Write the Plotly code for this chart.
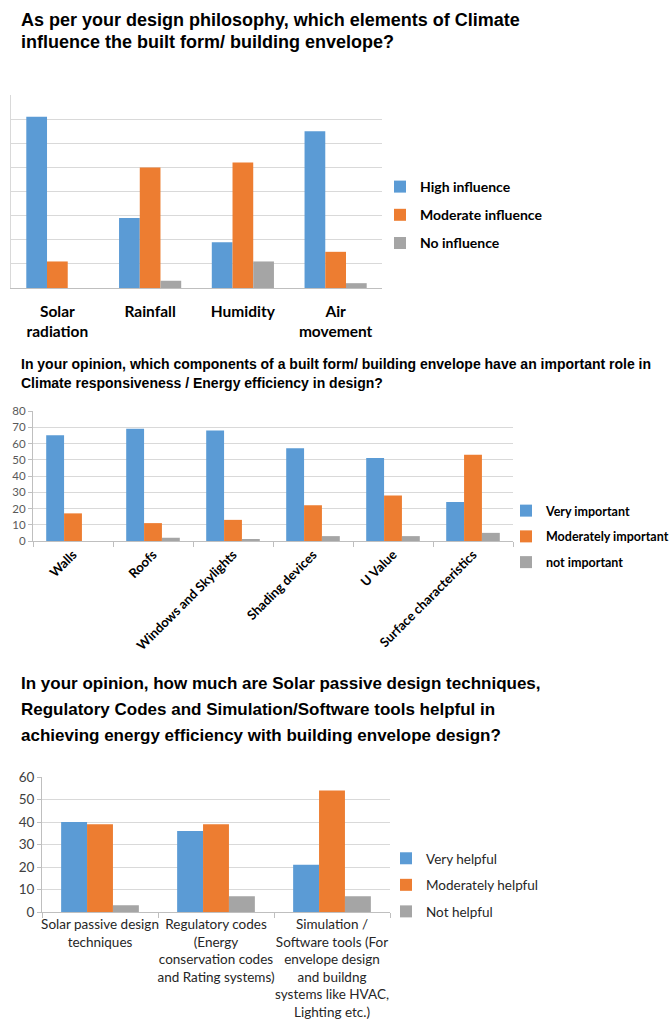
import plotly.graph_objects as go

W, H = 670, 1026


def py(p):
    return 1 - p / H


def px(p):
    return p / W


# ---------------- data ----------------
c1_categories = ["Solar<br>radiation", "Rainfall", "Humidity", "Air<br>movement"]
c1_series = ["High influence", "Moderate influence", "No influence"]
c1_high = [71, 29, 19, 65]
c1_moderate = [11, 50, 52, 15]
c1_none = [0, 3, 11, 2]

c2_categories = ["Walls", "Roofs", "Windows and Skylights", "Shading devices",
                 "U Value", "Surface characteristics"]
c2_series = ["Very important", "Moderately important", "not important"]
c2_very = [65, 69, 68, 57, 51, 24]
c2_moderate = [17, 11, 13, 22, 28, 53]
c2_not = [0, 2, 1, 3, 3, 5]

c3_categories = [
    "Solar passive design<br>techniques",
    "Regulatory codes<br>(Energy<br>conservation codes<br>and Rating systems)",
    "Simulation /<br>Software tools (For<br>envelope design<br>and buildng<br>systems like HVAC,<br>Lighting etc.)",
]
c3_series = ["Very helpful", "Moderately helpful", "Not helpful"]
c3_very = [40, 36, 21]
c3_moderate = [39, 39, 54]
c3_not = [3, 7, 7]

c1_yticks = [0, 10, 20, 30, 40, 50, 60, 70, 80]
c2_yticks = [0, 10, 20, 30, 40, 50, 60, 70, 80]
c3_yticks = [0, 10, 20, 30, 40, 50, 60]

titles = [
    (["As per your design philosophy, which elements of Climate",
      "influence the built form/ building envelope?"], [20, 42], 18),
    (["In your opinion, which components of a built form/ building envelope have an important role in",
      "Climate responsiveness / Energy efficiency in design?"], [364, 383], 14),
    (["In your opinion, how much are Solar passive design techniques,",
      "Regulatory Codes and Simulation/Software tools helpful in",
      "achieving energy efficiency with building envelope design?"], [683, 709, 735], 17),
]

colors = ["#5B9BD5", "#ED7D31", "#A5A5A5"]
FONT = "Lato"
TFONT = "Liberation Sans"

fig = go.Figure()

charts = [
    (c1_categories, c1_series, [c1_high, c1_moderate, c1_none], "x", "y", "legend"),
    (c2_categories, c2_series, [c2_very, c2_moderate, c2_not], "x2", "y2", "legend2"),
    (c3_categories, c3_series, [c3_very, c3_moderate, c3_not], "x3", "y3", "legend3"),
]

for ci, (cats, names, vals, xa, ya, lg) in enumerate(charts):
    for si, (name, v) in enumerate(zip(names, vals)):
        fig.add_trace(go.Bar(
            x=cats, y=v, name=name, marker_color=colors[si],
            marker_line_width=0, xaxis=xa, yaxis=ya, legend=lg,
            legendgroup=f"c{ci}s{si}", hoverinfo="skip",
        ))

grid = "#d9d9d9"
axl = "#bfbfbf"

fig.update_layout(
    width=W, height=H, margin=dict(l=0, r=0, t=0, b=0, autoexpand=False),
    paper_bgcolor="white", plot_bgcolor="white",
    barmode="group", bargap=0.33, bargroupgap=0,
    font=dict(family=FONT, color="black"),
    # chart 1
    xaxis=dict(domain=[px(11), px(382)], anchor="y", showline=True, linecolor=axl,
               linewidth=1, ticks="", showgrid=False, automargin=False,
               tickfont=dict(family=FONT, size=15.5, color="black", weight="bold"),
               ticklabelstandoff=9),
    yaxis=dict(domain=[py(288), py(95)], anchor="x", range=[0, 80], tickvals=c1_yticks,
               showticklabels=False, gridcolor=grid, showline=True, linecolor=grid,
               zeroline=False, ticks="", automargin=False),
    # chart 2
    xaxis2=dict(domain=[px(33), px(513)], anchor="y2", showline=True, linecolor=axl,
                ticks="outside", tickson="boundaries", ticklen=5, tickcolor=axl,
                tickangle=-45, showgrid=False, automargin=False,
                tickfont=dict(family=FONT, size=13, color="black", weight="bold")),
    yaxis2=dict(domain=[py(541), py(411)], anchor="x2", range=[0, 80], tickvals=c2_yticks,
                gridcolor=grid, showline=True, linecolor=axl, zeroline=False,
                ticks="outside", ticklen=4, tickcolor=axl, automargin=False,
                tickfont=dict(family=FONT, size=11.5, color="#595959")),
    # chart 3
    xaxis3=dict(domain=[px(42), px(390)], anchor="y3", showline=True, linecolor=axl,
                ticks="outside", tickson="boundaries", ticklen=5, tickcolor=axl,
                tickangle=0, showgrid=False, automargin=False,
                tickfont=dict(family=FONT, size=13.5, color="#262626")),
    yaxis3=dict(domain=[py(912), py(777)], anchor="x3", range=[0, 60], tickvals=c3_yticks,
                gridcolor=grid, showline=True, linecolor=axl, zeroline=False,
                ticks="outside", ticklen=4, tickcolor=axl, automargin=False,
                tickfont=dict(family=FONT, size=13.5, color="#404040")),
    legend=dict(x=px(380), y=py(171), xanchor="left", yanchor="top",
                font=dict(family=FONT, size=14, color="black", weight="bold"),
                tracegroupgap=7, bgcolor="rgba(0,0,0,0)", traceorder="grouped"),
    legend2=dict(x=px(506), y=py(496), xanchor="left", yanchor="top",
                 font=dict(family=FONT, size=12.5, color="black", weight="bold"),
                 tracegroupgap=6.5, bgcolor="rgba(0,0,0,0)", traceorder="grouped"),
    legend3=dict(x=px(386), y=py(843), xanchor="left", yanchor="top",
                 font=dict(family=FONT, size=13.5, color="#262626"),
                 tracegroupgap=6, bgcolor="rgba(0,0,0,0)", traceorder="grouped"),
    showlegend=True,
)

anns = []
for lines, ys, size in titles:
    for text, yy in zip(lines, ys):
        anns.append(dict(text=text, x=px(19), y=py(yy), xref="paper", yref="paper",
                         xanchor="left", yanchor="middle", showarrow=False,
                         font=dict(family=TFONT, size=size, color="black", weight="bold")))
fig.update_layout(annotations=anns)

fig.write_html("out.html")
